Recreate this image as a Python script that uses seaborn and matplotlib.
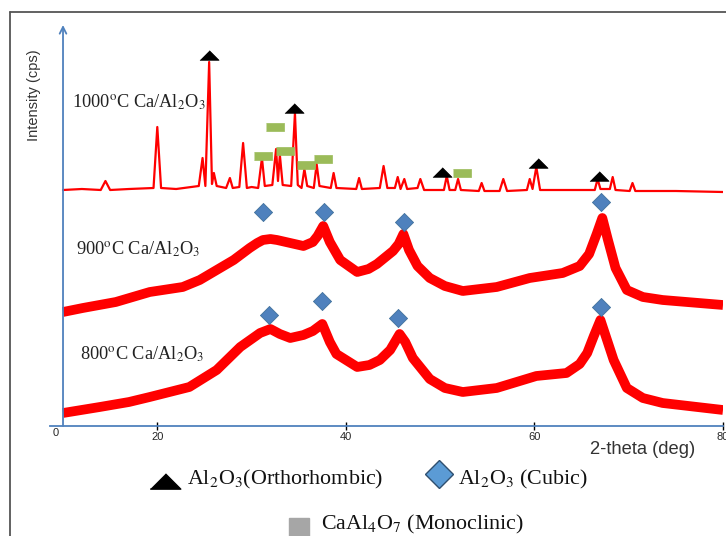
import matplotlib
matplotlib.use("Agg")
import matplotlib.pyplot as plt
import seaborn as sns
import pandas as pd
from matplotlib.lines import Line2D

# ---------------- data (2-theta in deg, intensity in arbitrary stacked units) ----------------
t1000_x = [10, 12.0, 14.0, 14.5, 15.0, 17.0, 19.6, 20.0, 20.4, 22.0, 24.4, 24.8, 25.1, 25.5, 25.8,
           26.0, 26.3, 27.3, 27.7, 28.0, 28.7, 29.1, 29.5, 30.0, 30.7, 31.1, 31.4, 32.2, 32.6,
           32.8, 33.0, 33.3, 34.2, 34.6, 34.9, 35.3, 35.6, 35.9, 36.6, 36.9, 37.2, 38.4, 38.7,
           39.0, 41.1, 41.4, 41.7, 43.6, 44.0, 44.4, 45.2, 45.5, 45.8, 46.2, 46.5, 47.6, 47.9,
           48.3, 50.4, 50.7, 51.0, 51.6, 51.9, 52.2, 54.1, 54.4, 54.7, 56.3, 56.7, 57.1, 59.2,
           59.5, 59.8, 60.2, 60.6, 63.0, 66.4, 66.7, 67.0, 68.0, 68.3, 68.6, 70.1, 70.4, 70.7,
           75.0, 80]
t1000_y = [236, 237, 236, 245, 236, 237, 238, 299, 238, 237, 240, 268, 240, 364, 242,
           253, 240, 238, 248, 238, 239, 283, 238, 239, 238, 268, 240, 241, 277,
           245, 271, 241, 240, 313, 241, 238, 257, 240, 238, 262, 240, 238, 253,
           238, 237, 248, 237, 238, 260, 238, 238, 249, 237, 247, 237, 238, 247,
           236, 236, 250, 236, 236, 247, 236, 235, 243, 235, 235, 247, 235, 236,
           247, 237, 259, 236, 236, 236, 247, 237, 237, 249, 236, 235, 243, 235,
           235, 234]

t900_x = [10, 12.1, 15.6, 19.2, 22.7, 24.5, 26.3, 28.1, 29.8, 30.6, 31.2, 32.0, 32.7, 34.1,
          35.5, 36.5, 37.0, 37.6, 38.3, 39.4, 41.2, 42.4, 43.3, 45.0, 45.6, 46.1, 46.7, 47.6,
          48.9, 50.5, 52.4, 56.0, 59.5, 63.0, 64.8, 65.8, 66.6, 67.2, 67.8, 68.6, 69.8, 71.5,
          73.6, 80]
t900_y = [114, 118, 124, 134, 139, 146, 156, 166, 178, 183, 186, 187, 186, 183,
          180, 184, 190, 200, 184, 166, 154, 157, 162, 175, 182, 192, 176, 160,
          148, 140, 135, 139, 148, 153, 160, 172, 192, 208, 186, 158, 136, 129,
          126, 121]

t800_x = [10, 13.9, 17.0, 19.2, 23.4, 26.3, 28.8, 30.0, 30.9, 32.0, 33.0, 34.1, 35.5, 36.5,
          37.5, 38.3, 39.0, 41.2, 42.5, 43.6, 44.7, 45.7, 46.3, 47.1, 48.9, 50.5, 52.4, 56.0,
          60.2, 63.4, 64.8, 65.6, 66.3, 67.0, 67.7, 68.4, 69.8, 71.5, 73.6, 80]
t800_y = [13, 19, 24, 29, 39, 56, 79, 87, 93, 97, 92, 88, 91, 95,
          102, 84, 72, 59, 61, 66, 76, 92, 84, 68, 47, 38, 34, 38,
          50, 53, 62, 73, 90, 106, 86, 66, 38, 28, 23, 16]

ortho_x = [25.5, 34.5, 50.2, 60.4, 66.8]
ortho_y = [371, 318, 254, 263, 250]
mono_x = [31.2, 32.5, 33.5, 35.8, 37.6, 52.3]
mono_y = [270, 299, 275, 261, 267, 253]
cubic_x = [31.2, 37.7, 46.2, 67.1, 31.8, 37.5, 45.5, 67.1]
cubic_y = [214, 214, 204, 224, 111, 125, 108, 119]

series_labels = ["1000$^{\\mathrm{o}}$C Ca/Al$_2$O$_3$",
                 "900$^{\\mathrm{o}}$C Ca/Al$_2$O$_3$",
                 "800$^{\\mathrm{o}}$C Ca/Al$_2$O$_3$"]
label_pos_x = [10.95, 11.4, 11.8]
label_pos_y = [324, 177, 72]
x_ticks = [20, 40, 60, 80]
legend_labels = ["Al$_2$O$_3$(Orthorhombic)", "Al$_2$O$_3$ (Cubic)", "CaAl$_4$O$_7$ (Monoclinic)"]

# ---------------- style ----------------
sns.set_theme(style="white")
plt.rcParams["font.family"] = ["Liberation Sans", "DejaVu Sans"]
plt.rcParams["mathtext.fontset"] = "stix"

W, H = 726, 536
fig = plt.figure(figsize=(W / 100, H / 100), dpi=100)
fig.patch.set_facecolor("white")
ax = fig.add_axes([50 / W, 110 / H, 673 / W, 401 / H])
ax.set_facecolor("none")

red = "#ff0000"
df1000 = pd.DataFrame({"x": t1000_x, "y": t1000_y})
df900 = pd.DataFrame({"x": t900_x, "y": t900_y})
df800 = pd.DataFrame({"x": t800_x, "y": t800_y})
sns.lineplot(data=df1000, x="x", y="y", ax=ax, color=red, lw=1.6, sort=False, estimator=None)
for d in (df900, df800):
    sns.lineplot(data=d, x="x", y="y", ax=ax, color=red, lw=7, sort=False, estimator=None,
                 solid_joinstyle="round", solid_capstyle="butt")

tri = [(-1, -0.5), (1, -0.5), (0, 0.5)]
rect = [(-1, -0.5), (1, -0.5), (1, 0.5), (-1, 0.5)]
sns.scatterplot(x=ortho_x, y=ortho_y, ax=ax, marker=tri, s=190, color="black", edgecolor="black",
                linewidth=0.5, zorder=5)
sns.scatterplot(x=mono_x, y=mono_y, ax=ax, marker=rect, s=150, color="#9bbb59", edgecolor="#9bbb59",
                linewidth=0.5, zorder=5)
sns.scatterplot(x=cubic_x, y=cubic_y, ax=ax, marker="D", s=85, color="#4f81bd", edgecolor="#41719c",
                linewidth=0.6, zorder=5)

serif = ["Liberation Serif", "DejaVu Serif"]
for lab, lx, ly in zip(series_labels, label_pos_x, label_pos_y):
    ax.text(lx, ly, lab, fontsize=13.2, family=serif, color="#222222", ha="left", va="center")

ax.set_xlim(8.62, 80)
ax.set_ylim(0, 401)
ax.set_xlabel("")
ax.set_ylabel("")
for s in ["top", "right", "left"]:
    ax.spines[s].set_visible(False)
ax.spines["bottom"].set_color("#4f81bd")
ax.spines["bottom"].set_linewidth(1.3)
ax.set_xticks(x_ticks)
ax.set_xticklabels([str(v) for v in x_ticks])
ax.tick_params(axis="x", direction="inout", length=6, width=1, color="black", labelsize=8,
               pad=1, bottom=True)
ax.set_yticks([])
ax.annotate("", xy=(10, 1.0), xytext=(10, 0), xycoords=("data", "axes fraction"),
            textcoords=("data", "axes fraction"),
            arrowprops=dict(arrowstyle="->", color="#4f81bd", lw=1.3, mutation_scale=12,
                            shrinkA=0, shrinkB=0))
ax.text(9.6, -7, "0", fontsize=8, ha="right", va="center", clip_on=False)

fig.text(643 / W, 1 - 450 / H, "2-theta (deg)", fontsize=13.2, color="#333333", ha="center", va="center")
fig.text(34 / W, 1 - 95 / H, "Intensity (cps)", fontsize=10.5, color="#333333", rotation=90,
         ha="center", va="center")

# outer frame
fig.add_artist(Line2D([10 / W, 10 / W], [0, 1 - 12 / H], color="#555555", lw=1.3))
fig.add_artist(Line2D([10 / W, 1], [1 - 12 / H, 1 - 12 / H], color="#555555", lw=1.3))

# legend (manual)
fig.add_artist(Line2D([165 / W], [1 - 481 / H], marker=tri, markersize=22, color="black", lw=0))
fig.text(187 / W, 1 - 479 / H, legend_labels[0], fontsize=15.8, family=serif, ha="left", va="center",
         color="#111111")
fig.add_artist(Line2D([439 / W], [1 - 474 / H], marker="D", markersize=14, color="#5b9bd5",
                      markeredgecolor="#2f4f6f", markeredgewidth=1, lw=0))
fig.text(458 / W, 1 - 479 / H, legend_labels[1], fontsize=15.8, family=serif, ha="left", va="center",
         color="#111111")
fig.add_artist(Line2D([299 / W], [1 - 528 / H], marker="s", markersize=14, color="#a6a6a6", lw=0))
fig.text(321 / W, 1 - 524 / H, legend_labels[2], fontsize=15.8, family=serif, ha="left", va="center",
         color="#111111")

fig.savefig("out.png", dpi=100)
